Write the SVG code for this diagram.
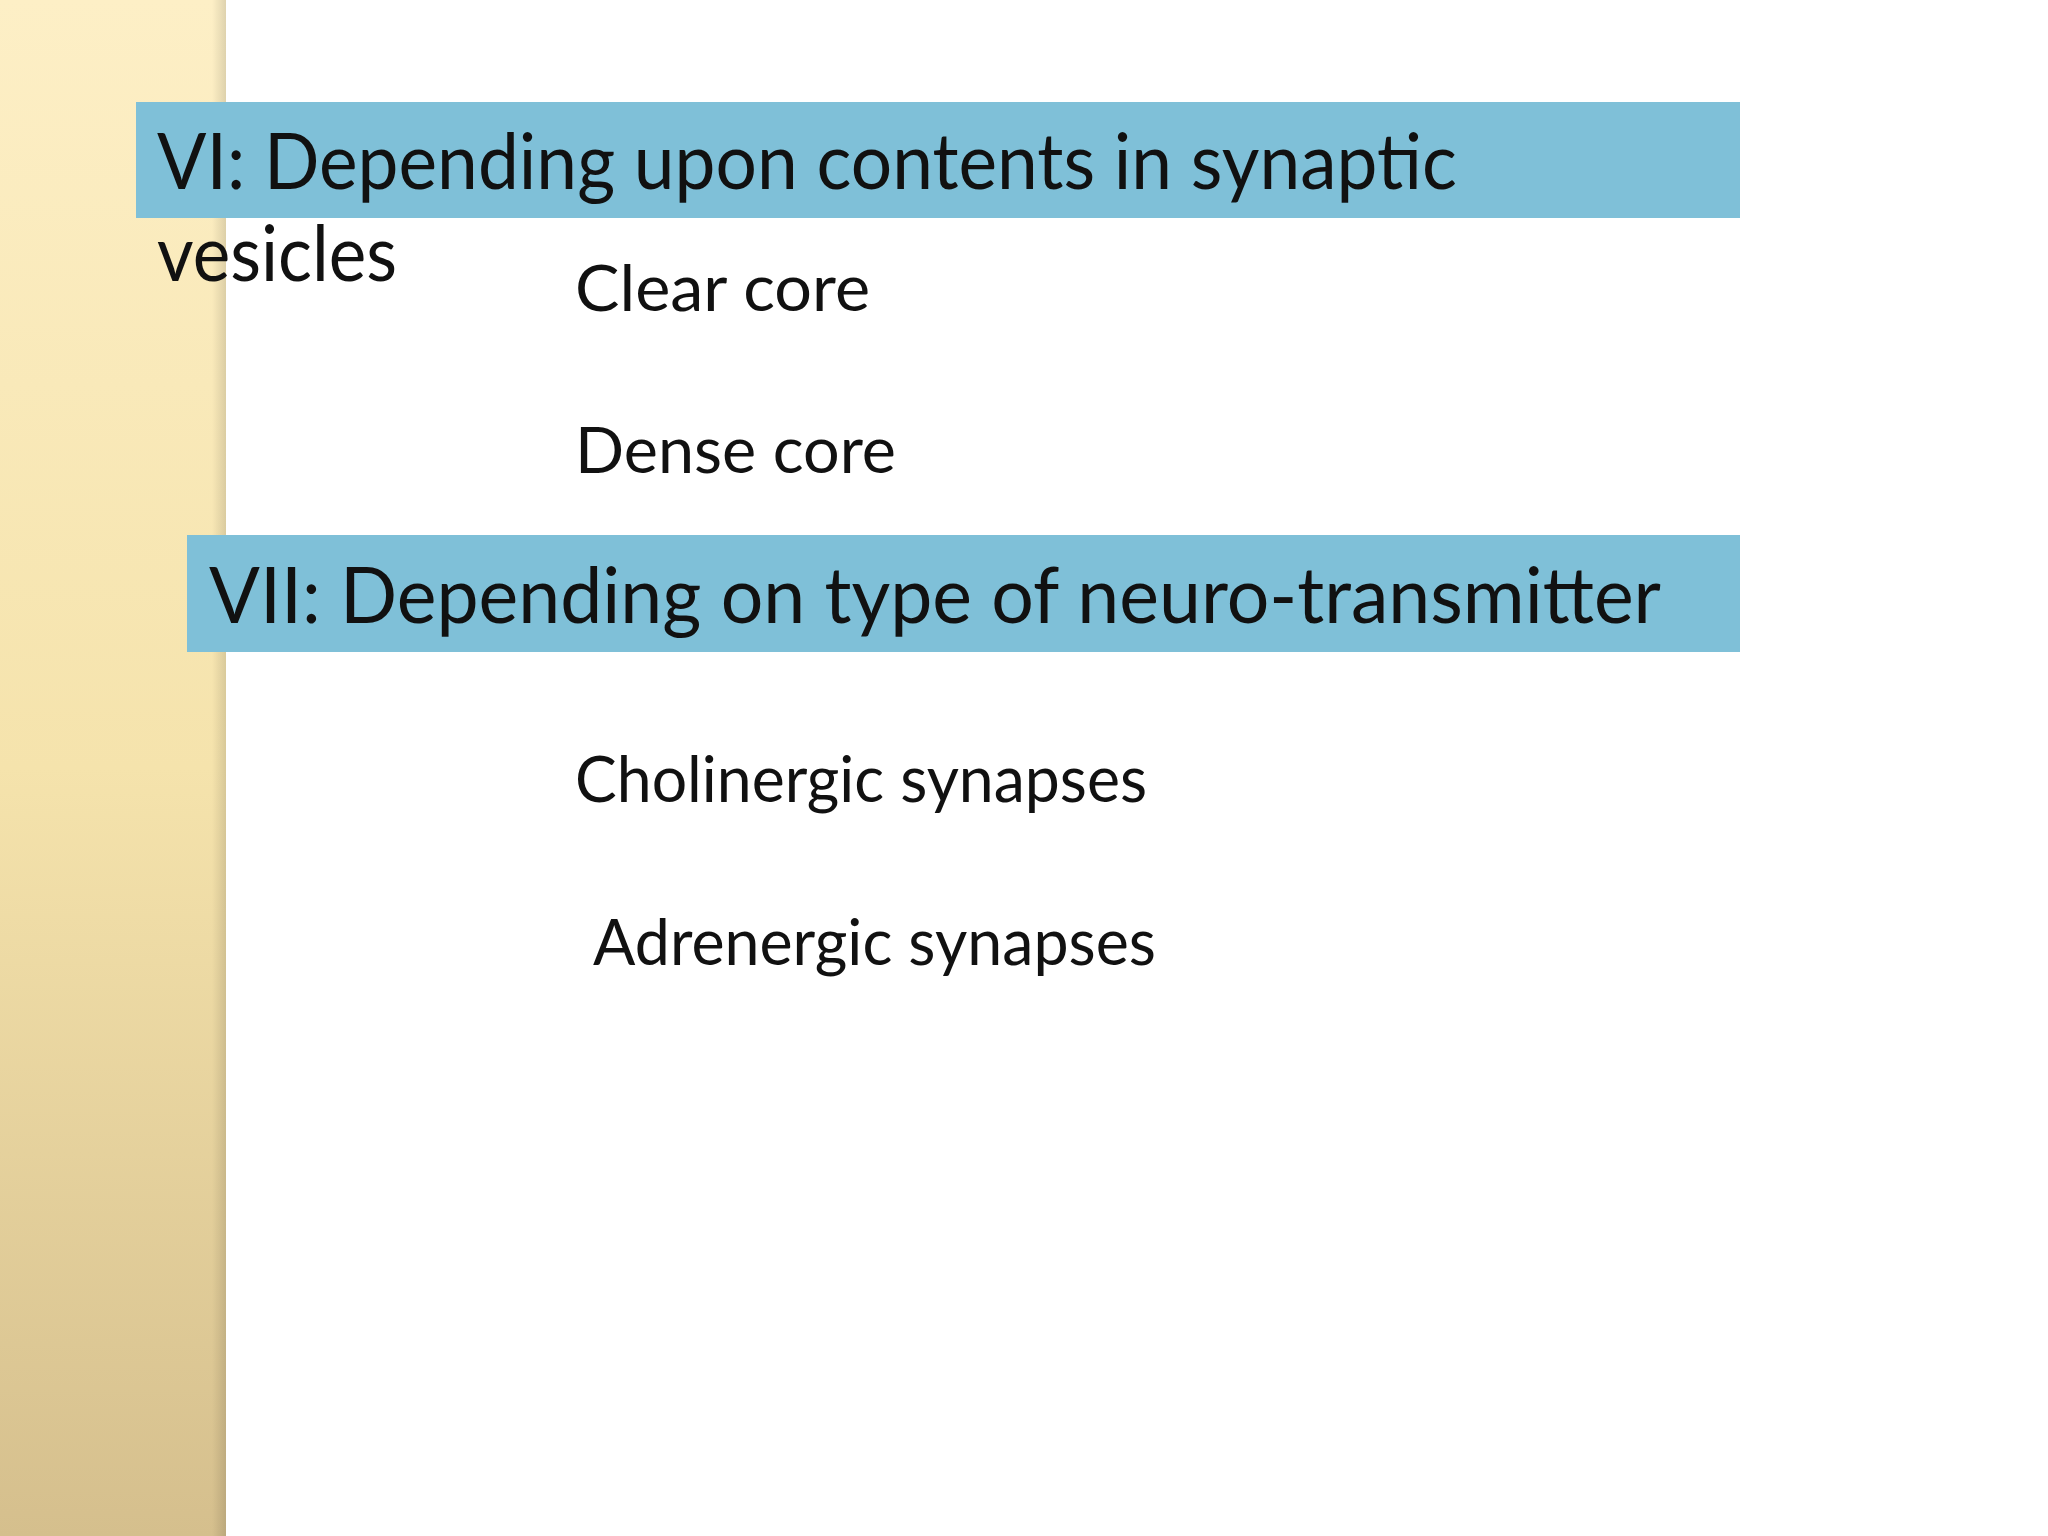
<svg xmlns="http://www.w3.org/2000/svg" width="2048" height="1536" viewBox="0 0 2048 1536">
<defs>
<linearGradient id="bar" x1="0" y1="0" x2="0" y2="1">
<stop offset="0" stop-color="#fdefc6"/>
<stop offset="0.5" stop-color="#f5e3ac"/>
<stop offset="1" stop-color="#d5bf8d"/>
</linearGradient>
<linearGradient id="edge" x1="0" y1="0" x2="1" y2="0">
<stop offset="0" stop-color="#000" stop-opacity="0"/>
<stop offset="1" stop-color="#000" stop-opacity="0.12"/>
</linearGradient>
<style>
.t{font-family:Lato,"Open Sans",sans-serif;fill:#111}
.h{font-size:78px}
.b{font-size:63px}
.hdr{fill:#7fc0d8}
</style>
</defs>
<rect width="2048" height="1536" fill="#fff"/>
<g id="sidebar">
<rect x="0" y="0" width="226" height="1536" fill="url(#bar)"/>
<rect x="212" y="0" width="14" height="1536" fill="url(#edge)"/>
</g>
<g id="header1">
<rect class="hdr" x="136" y="102" width="1604" height="116"/>
<text class="t h" x="157" y="189" textLength="1300" lengthAdjust="spacingAndGlyphs">VI: Depending upon contents in synaptic</text>
<text class="t h" x="157" y="281" textLength="240" lengthAdjust="spacingAndGlyphs">vesicles</text>
</g>
<g id="clear"><text class="t b" x="575" y="311" textLength="295" lengthAdjust="spacingAndGlyphs">Clear core</text></g>
<g id="dense"><text class="t b" x="575" y="473" textLength="321" lengthAdjust="spacingAndGlyphs">Dense core</text></g>
<g id="header2">
<rect class="hdr" x="187" y="535" width="1553" height="117"/>
<text class="t h" x="209" y="623" textLength="1452" lengthAdjust="spacingAndGlyphs">VII: Depending  on type of neuro-transmitter</text>
</g>
<g id="chol"><text class="t b" x="575" y="802" textLength="572" lengthAdjust="spacingAndGlyphs">Cholinergic synapses</text></g>
<g id="adr"><text class="t b" x="593" y="965" textLength="563" lengthAdjust="spacingAndGlyphs">Adrenergic synapses</text></g>
<g id="connectors"/>
</svg>
